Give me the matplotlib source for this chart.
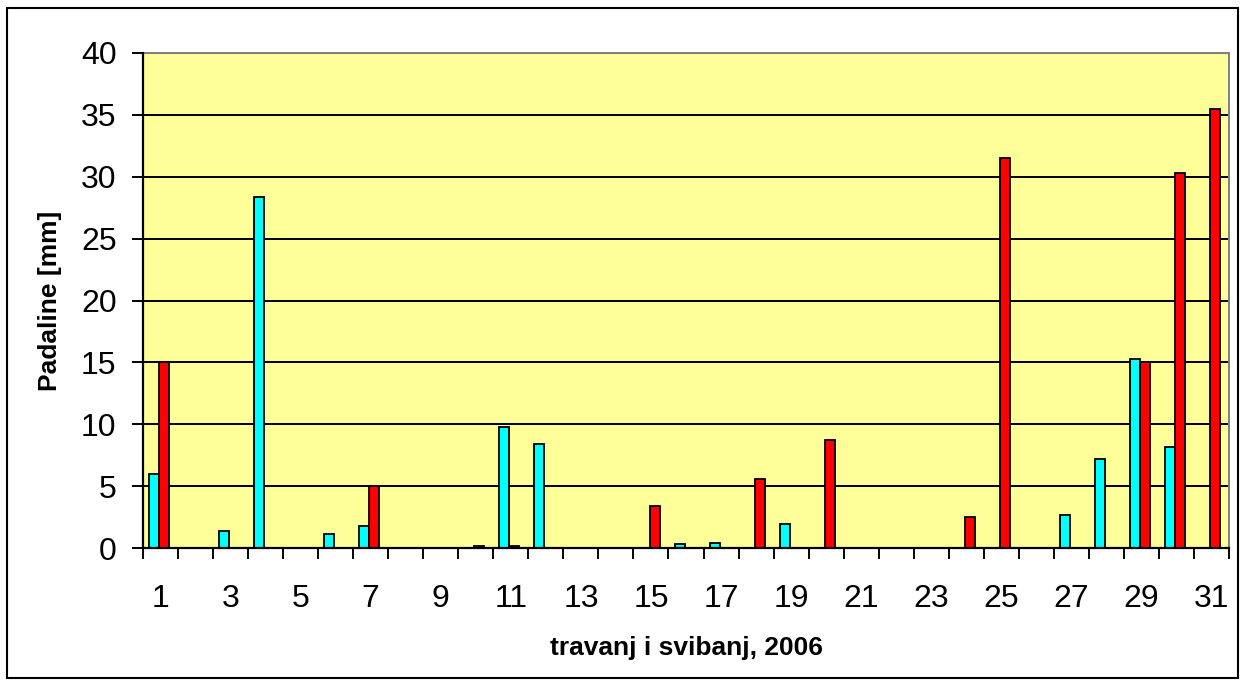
import numpy as np
import matplotlib
matplotlib.use("Agg")
import matplotlib.pyplot as plt
from matplotlib.patches import Rectangle

plt.rcParams['font.family'] = ['Liberation Sans', 'DejaVu Sans']

# daily precipitation, mm (day of month)
days = list(range(1, 32))
travanj = [6.0, 0, 1.4, 28.4, 0, 1.1, 1.8, 0, 0, 0,
           9.8, 8.4, 0, 0, 0, 0.3, 0.4, 0, 1.9, 0,
           0, 0, 0, 0, 0, 0, 2.7, 7.2, 15.3, 8.2, 0]
svibanj = [15.0, 0, 0, 0, 0, 0, 5.0, 0, 0, 0.2,
           0.2, 0, 0, 0, 3.4, 0, 0, 5.6, 0, 8.7,
           0, 0, 0, 2.5, 31.5, 0, 0, 0, 15.0, 30.3, 35.5]
tick_days = list(range(1, 32, 2))

fig = plt.figure(figsize=(12.44, 6.86), dpi=100)
ax = fig.add_axes([143 / 1244, 1 - 548 / 686, 1086 / 1244, 495 / 686])
ax.set_facecolor('#FFFF99')

x = np.array(days)
w = 0.286
tr = [v if v > 0 else np.nan for v in travanj]
sv = [v if v > 0 else np.nan for v in svibanj]
ax.bar(x - w / 2 - 0.04, tr, width=w, color='#00FFFF', edgecolor='black', linewidth=1.3, zorder=3)
ax.bar(x + w / 2 - 0.04, sv, width=w, color='#FF0000', edgecolor='black', linewidth=1.3, zorder=3)

ax.set_xlim(0.5, 31.5)
ax.set_ylim(0, 40)
ax.set_yticks(range(0, 41, 5))
ax.yaxis.grid(True, color='black', linewidth=1.4, zorder=1)
ax.set_axisbelow(True)

# ticks between categories, labels on odd days
ax.set_xticks(np.arange(0.5, 32, 1))
ax.set_xticklabels([])
ax.set_xticks(tick_days, minor=True)
ax.set_xticklabels([str(d) for d in tick_days], minor=True)
ax.tick_params(axis='x', which='major', length=8, width=1.4, direction='out', color='black')
ax.tick_params(axis='x', which='minor', length=0, labelsize=23, pad=26)
ax.tick_params(axis='y', length=8, width=1.4, labelsize=23, pad=11)

for s in ['left', 'bottom']:
    ax.spines[s].set_color('black')
    ax.spines[s].set_linewidth(1.6)
    ax.spines[s].set_zorder(4)
for s in ['top', 'right']:
    ax.spines[s].set_color('#808080')
    ax.spines[s].set_linewidth(1.4)

ax.set_xlabel('travanj i svibanj, 2006', fontsize=19, fontweight='bold', labelpad=16)
ax.set_ylabel('Padaline [mm]', fontsize=19, fontweight='bold', labelpad=14)

# outer chart border
fig.patches.append(Rectangle((7 / 1244, 8 / 686), 1231 / 1244, 670 / 686,
                             transform=fig.transFigure, fill=False,
                             edgecolor='black', linewidth=1.5))

fig.savefig('out.png', dpi=100)
